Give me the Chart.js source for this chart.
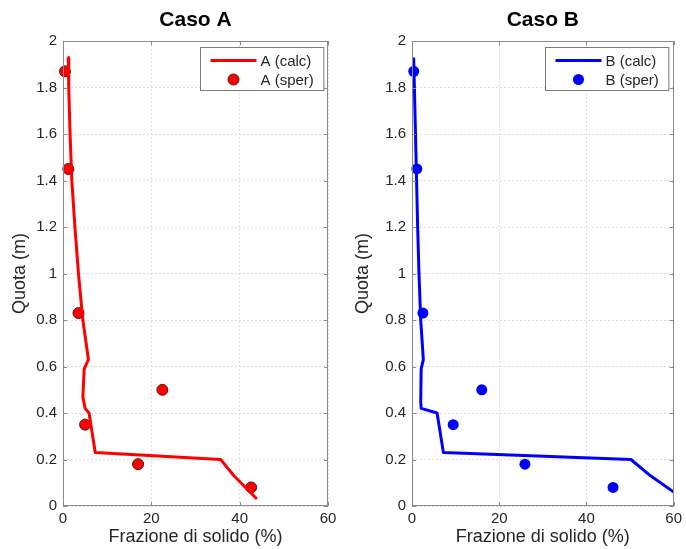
<!DOCTYPE html>
<html>
<head>
<meta charset="utf-8">
<script src="https://cdn.jsdelivr.net/npm/chart.js@4.4.1/dist/chart.umd.min.js"></script>
<style>
  html, body { margin: 0; padding: 0; background: #fff; }
  #wrap { position: relative; width: 686px; height: 549px; }
  canvas { position: absolute; top: 0; }
</style>
</head>
<body>
<div id="wrap">
  <canvas id="casoA" width="343" height="549" style="left:0"></canvas>
  <canvas id="casoB" width="343" height="549" style="left:343px"></canvas>
</div>
<script>
// profilo calcolato, caso A (frazione di solido %, quota m)
const calcA_x = [1.2, 1.3, 1.6, 2.0, 2.7, 3.5, 4.5, 5.75, 4.8, 4.5, 5.0, 5.9, 7.3, 35.7, 38.7, 43.9];
const calcA_y = [1.93, 1.8, 1.6, 1.4, 1.2, 1.0, 0.8, 0.63, 0.59, 0.47, 0.42, 0.40, 0.23, 0.20, 0.13, 0.03];
// misure sperimentali, caso A
const sperA_x = [0.45, 1.2, 3.5, 22.5, 5.0, 17.0, 42.6];
const sperA_y = [1.87, 1.45, 0.83, 0.50, 0.35, 0.18, 0.08];

// profilo calcolato, caso B
const calcB_x = [0.38, 0.55, 0.8, 1.05, 1.3, 1.6, 2.0, 2.6, 2.1, 2.0, 2.1, 5.75, 7.2, 50.2, 54.7, 62.3];
const calcB_y = [1.93, 1.8, 1.6, 1.4, 1.2, 1.0, 0.8, 0.63, 0.59, 0.45, 0.42, 0.40, 0.23, 0.20, 0.13, 0.03];
// misure sperimentali, caso B
const sperB_x = [0.4, 1.1, 2.5, 16.0, 9.45, 25.9, 46.1];
const sperB_y = [1.87, 1.45, 0.83, 0.50, 0.35, 0.18, 0.08];

const xTicks = [0, 20, 40, 60];
const yTicks = [0, 0.2, 0.4, 0.6, 0.8, 1, 1.2, 1.4, 1.6, 1.8, 2];

const FONT = '"Liberation Sans", Arial, Helvetica, sans-serif';
const AXIS = '#8a8a8a';
const TESTO = '#262626';

function punti(xs, ys) { return xs.map((x, i) => ({ x: x, y: ys[i] })); }

// riquadro, tacche interne e legenda stile matlab
const cornice = {
  id: 'cornice',
  afterDatasetsDraw(chart) {
    const { ctx, chartArea: a, scales } = chart;
    ctx.save();
    ctx.strokeStyle = AXIS;
    ctx.lineWidth = 1;
    ctx.strokeRect(Math.round(a.left) + 0.5, Math.round(a.top) + 0.5,
      Math.round(a.right - a.left) - 1, Math.round(a.bottom - a.top) - 1);
    ctx.beginPath();
    xTicks.forEach(v => {
      const px = Math.round(scales.x.getPixelForValue(v)) + 0.5;
      ctx.moveTo(px, a.bottom); ctx.lineTo(px, a.bottom - 4);
      ctx.moveTo(px, a.top); ctx.lineTo(px, a.top + 4);
    });
    yTicks.forEach(v => {
      const py = Math.round(scales.y.getPixelForValue(v)) + 0.5;
      ctx.moveTo(a.left, py); ctx.lineTo(a.left + 4, py);
      ctx.moveTo(a.right, py); ctx.lineTo(a.right - 4, py);
    });
    ctx.stroke();

    // legenda
    const ds = chart.data.datasets;
    ctx.font = '15px ' + FONT;
    const tw = Math.max(...ds.map(d => ctx.measureText(d.label).width));
    const w = 60 + tw + 10, h = 43;
    const bx = Math.round(a.right - 5 - w) + 0.5, by = Math.round(a.top + 6) + 0.5;
    ctx.fillStyle = '#fff';
    ctx.fillRect(bx, by, w, h);
    ctx.strokeStyle = '#7a7a7a';
    ctx.strokeRect(bx, by, w, h);
    const r1 = by + 13, r2 = by + 32;
    ctx.strokeStyle = ds[0].borderColor;
    ctx.lineWidth = 3;
    ctx.beginPath(); ctx.moveTo(bx + 10, r1); ctx.lineTo(bx + 56, r1); ctx.stroke();
    ctx.beginPath(); ctx.arc(bx + 33, r2, ds[1].pointRadius, 0, Math.PI * 2);
    ctx.fillStyle = ds[1].pointBackgroundColor; ctx.fill();
    ctx.lineWidth = ds[1].pointBorderWidth;
    ctx.strokeStyle = ds[1].pointBorderColor;
    if (ds[1].pointBorderWidth) ctx.stroke();
    ctx.fillStyle = TESTO;
    ctx.textBaseline = 'middle';
    ctx.fillText(ds[0].label, bx + 60, r1 + 1);
    ctx.fillText(ds[1].label, bx + 60, r2 + 1);
    ctx.restore();
  }
};

function grafico(id, titolo, calc, sper, colore, bordo, asseY, destra) {
  return new Chart(document.getElementById(id), {
    type: 'scatter',
    data: {
      datasets: [
        { label: calc.label, data: calc.data, showLine: true, borderColor: colore,
          borderWidth: 3, pointRadius: 0, borderJoinStyle: 'round', borderCapStyle: 'butt' },
        { label: sper.label, data: sper.data, pointRadius: 5.5, pointHoverRadius: 5.5,
          pointBackgroundColor: colore, pointBorderColor: bordo, clip: false,
          pointBorderWidth: bordo === colore ? 0 : 1, backgroundColor: colore, borderColor: bordo }
      ]
    },
    options: {
      responsive: false,
      animation: false,
      events: [],
      layout: { padding: { top: 0, right: destra, left: 0, bottom: 0 } },
      plugins: {
        legend: { display: false },
        tooltip: { enabled: false },
        title: {
          display: true, text: titolo, fullSize: false, color: '#000',
          font: { family: FONT, size: 21, weight: 'bold', lineHeight: 1.15 },
          padding: { top: 8, bottom: 9 }
        }
      },
      scales: {
        x: {
          type: 'linear', min: 0, max: 60,
          afterBuildTicks: s => { s.ticks = xTicks.map(v => ({ value: v })); },
          afterFit: s => { s.height = 43; },
          grid: { color: '#dcdcdc', drawTicks: false },
          border: { display: false, dash: [2, 2] },
          ticks: { color: TESTO, padding: 4, font: { family: FONT, size: 15 } },
          title: { display: true, text: 'Frazione di solido (%)', color: TESTO,
                   font: { family: FONT, size: 18 }, padding: { top: 0, bottom: 1 } }
        },
        y: {
          type: 'linear', min: 0, max: 2,
          afterBuildTicks: s => { s.ticks = yTicks.map(v => ({ value: v })); },
          afterFit: s => { s.width = asseY; },
          grid: { color: '#dcdcdc', drawTicks: false },
          border: { display: false, dash: [2, 2] },
          ticks: { color: TESTO, padding: 6, font: { family: FONT, size: 15 },
                   callback: v => String(+v.toFixed(1)) },
          title: { display: true, text: 'Quota (m)', color: TESTO,
                   font: { family: FONT, size: 18 }, padding: { top: 9, bottom: 0 } }
        }
      }
    },
    plugins: [cornice]
  });
}

grafico('casoA', 'Caso A',
  { label: 'A (calc)', data: punti(calcA_x, calcA_y) },
  { label: 'A (sper)', data: punti(sperA_x, sperA_y) },
  'rgb(255,0,0)', 'rgb(90,20,20)', 63, 15);

grafico('casoB', 'Caso B',
  { label: 'B (calc)', data: punti(calcB_x, calcB_y) },
  { label: 'B (sper)', data: punti(sperB_x, sperB_y) },
  'rgb(0,0,255)', 'rgb(0,0,255)', 69, 10);
</script>
</body>
</html>
